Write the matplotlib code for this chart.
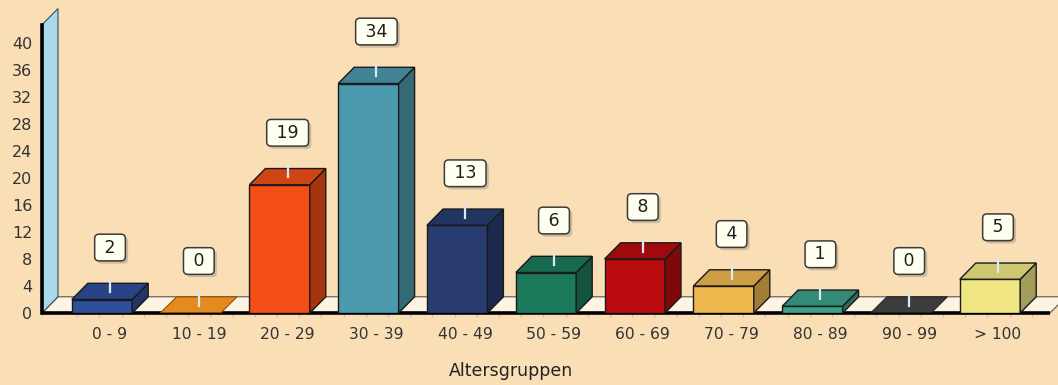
import matplotlib.pyplot as plt
import matplotlib.patheffects as pe
from matplotlib.patches import Polygon

plt.rcParams['font.family'] = ['DejaVu Sans']

############### Data ################
groups = ["0 - 9", "10 - 19", "20 - 29", "30 - 39", "40 - 49", "50 - 59",
          "60 - 69", "70 - 79", "80 - 89", "90 - 99", "> 100"]
counts = [2, 0, 19, 34, 13, 6, 8, 4, 1, 0, 5]
colors = ["#2F4F9B", "#E48A1E", "#F24E16", "#4C9AAE", "#283C70", "#1C7A5C",
          "#BA0C0E", "#EEB84E", "#3BA189", "#3C3C3C", "#F0E784"]
yticks = list(range(0, 41, 4))

bg = "#FADFB6"
dx, dy = 0.18, 2.4          # fake 3D depth (category units, value units)
left_off, width = 0.43, 0.68

def shade(c, f):
    r, g, b = [int(c[i:i+2], 16) / 255 for i in (1, 3, 5)]
    return (r * f, g * f, b * f)

############### Figure ################
fig = plt.figure(figsize=(10.58, 3.85), dpi=100, facecolor=bg)
ax = fig.add_axes([42/1058, 72/385, 1013/1058, 308/385])
ax.set_facecolor(bg)
xmin, xmax = -0.766, 10.642
ax.set_xlim(xmin, xmax)
ax.set_ylim(0, 45.63)
for s in ax.spines.values():
    s.set_visible(False)

# floor
xr = 10.586
floor = Polygon([(xmin, 0), (xr, 0), (xr + dx, dy), (xmin + dx, dy)],
                closed=True, facecolor="#FDF4E4", edgecolor="#555555", lw=0.8, clip_on=False)
ax.add_patch(floor)
ax.plot([xmin, xr], [0, 0], color="black", lw=2.6, solid_capstyle="butt", clip_on=False)

# wall
wall = Polygon([(xmin, 0), (xmin, 42.7), (xmin + dx, 42.7 + dy), (xmin + dx, dy)],
               closed=True, facecolor="#A9D9EB", edgecolor="#3A4A55", lw=0.8, clip_on=False)
ax.add_patch(wall)
ax.plot([xmin, xmin], [0, 42.7], color="black", lw=2.6, clip_on=False)

# bars
for i, (v, c) in enumerate(zip(counts, colors)):
    x0 = i - left_off
    x1 = x0 + width
    ec = "#1A1A1A"
    if v > 0:
        ax.add_patch(Polygon([(x0, 0), (x1, 0), (x1, v), (x0, v)],
                             facecolor=c, edgecolor=ec, lw=1, zorder=3))
        ax.add_patch(Polygon([(x1, 0), (x1 + dx, dy), (x1 + dx, v + dy), (x1, v)],
                             facecolor=shade(c, 0.68), edgecolor=ec, lw=1, zorder=3))
        ax.add_patch(Polygon([(x0, v), (x1, v), (x1 + dx, v + dy), (x0 + dx, v + dy)],
                             facecolor=shade(c, 0.86), edgecolor=ec, lw=1, zorder=3))
    else:
        ax.add_patch(Polygon([(x0, 0.05), (x1, 0.05), (x1 + dx, dy), (x0 + dx, dy)],
                             facecolor=c, edgecolor=shade(c, 0.6), lw=0.8, zorder=3))
    # leader line
    ax.plot([i, i], [v + dy * 0.45, v + dy + 0.6], color="#DCE8F2", lw=1.6, zorder=4)
    # value label
    t = ax.text(i, v + 7.7, f" {v} ", ha="center", va="center", fontsize=12.5,
                color="#1E1E1E", zorder=5,
                bbox=dict(boxstyle="round,pad=0.25,rounding_size=0.25",
                          facecolor="#FFFFF0", edgecolor="#3A3A3A", lw=1.1))
    t.get_bbox_patch().set_path_effects([
        pe.SimplePatchShadow(offset=(2, -2), shadow_rgbFace="#9A8E7A", alpha=0.45),
        pe.Normal()])

# axes ticks
ax.set_yticks(yticks)
ax.set_yticklabels([str(y) for y in yticks])
ax.set_xticks(range(len(groups)))
ax.set_xticklabels(groups)
ax.tick_params(axis="y", length=0, pad=7, labelsize=11.5, labelcolor="#333333")
ax.tick_params(axis="x", length=0, pad=10, labelsize=11.2, labelcolor="#333333")
ax.set_xticks([i - 0.37 + k * 0.25 for i in range(len(groups)) for k in range(4)], minor=True)
ax.tick_params(axis="x", which="minor", length=3, color="#C8C0B0", width=1)
ax.set_xlabel("Altersgruppen", fontsize=12.5, color="#222222")
ax.xaxis.set_label_coords((511 - 42) / 1013, -0.16)

plt.savefig("out.png", dpi=100, facecolor=bg)
